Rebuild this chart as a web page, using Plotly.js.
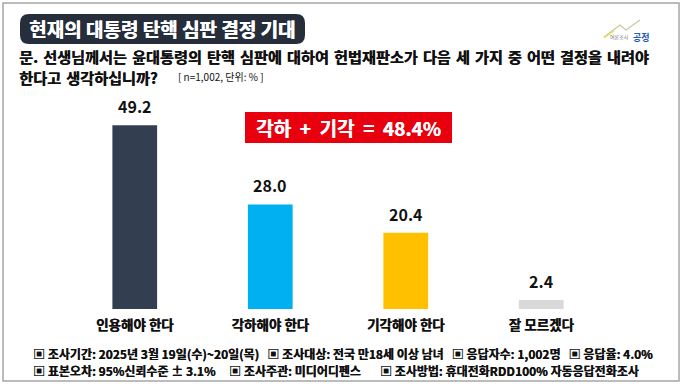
<!DOCTYPE html>
<html><head><meta charset="utf-8">
<script src="https://cdn.plot.ly/plotly-3.0.1.min.js"></script>
<style>html,body{margin:0;padding:0;background:#fff}#c{width:683px;height:390px}</style>
</head><body><div id="c"></div>
<script>
const categories = ["인용해야 한다", "각하해야 한다", "기각해야 한다", "잘 모르겠다"];
const values = [49.2, 28.0, 20.4, 2.4];
const barColors = ["#333f50", "#00b0f0", "#ffc000", "#d9d9d9"];
const titleText = "현재의 대통령 탄핵 심판 결정 기대";
const questionLine1 = "문. 선생님께서는 윤대통령의 탄핵 심판에 대하여 헌법재판소가 다음 세 가지 중 어떤 결정을 내려야";
const questionLine2 = "한다고 생각하십니까?";
const sampleNote = "[ n=1,002, 단위: % ]";
const highlightText = "각하  +  기각  =  48.4%";
const footer1 = "▣ 조사기간: 2025년 3월 19일(수)~20일(목)   ▣ 조사대상: 전국 만18세 이상 남녀   ▣ 응답자수: 1,002명   ▣ 응답율: 4.0%";
const footer2 = "▣ 표본오차: 95%신뢰수준 ± 3.1%     ▣ 조사주관: 미디어디펜스       ▣ 조사방법: 휴대전화RDD100% 자동응답전화조사";

const W = 683, H = 390;
const px = x => x / W, py = y => 1 - y / H;
const F = "'Noto Sans CJK KR', 'Noto Sans', sans-serif";
const SH = "0.45px 0 0 #111";
const wide = s => s.replace(/ /g, "\u2004");

const trace = {
  type: "bar", x: categories, y: values,
  marker: {color: barColors}, hoverinfo: "skip"
};

const valueLabels = categories.map((c, i) => ({
  xref: "x", yref: "y", x: c, y: values[i], text: "<b>" + values[i].toFixed(1) + "</b>",
  showarrow: false, yanchor: "bottom", yshift: 5,
  font: {family: F, size: 16, color: "#111"}
}));

const r = 9, tx0 = 20, tx1 = 305, ty0 = 14, ty1 = 44;
function rr(x0, y0, x1, y1, r) {
  return `M${px(x0+r)},${py(y0)} L${px(x1-r)},${py(y0)} Q${px(x1)},${py(y0)} ${px(x1)},${py(y0+r)} L${px(x1)},${py(y1-r)} Q${px(x1)},${py(y1)} ${px(x1-r)},${py(y1)} L${px(x0+r)},${py(y1)} Q${px(x0)},${py(y1)} ${px(x0)},${py(y1-r)} L${px(x0)},${py(y0+r)} Q${px(x0)},${py(y0)} ${px(x0+r)},${py(y0)} Z`;
}

const layout = {
  width: W, height: H,
  margin: {l: 0, r: 0, t: 0, b: 0},
  paper_bgcolor: "#fff", plot_bgcolor: "rgba(0,0,0,0)",
  showlegend: false, bargap: 0.67,
  font: {family: F, color: "#111"},
  xaxis: {domain: [px(67), px(609)], showgrid: false, zeroline: false, showline: false,
          ticks: "", tickvals: categories, ticktext: categories.map(c => "<b>" + c + "</b>"),
          ticklabelstandoff: 6,
          tickfont: {family: F, size: 13.5, color: "#111", shadow: SH}, fixedrange: true},
  yaxis: {domain: [py(309), py(85)], range: [0, 60], visible: false, fixedrange: true},
  shapes: [
    {type: "rect", xref: "paper", yref: "paper", x0: px(3), x1: px(679), y0: py(381), y1: py(3),
     line: {color: "#a6a6a6", width: 1.5}, fillcolor: "rgba(0,0,0,0)"},
    {type: "path", xref: "paper", yref: "paper", path: rr(tx0, ty0, tx1, ty1, r),
     fillcolor: "#262d3b", line: {width: 0}},
    {type: "rect", xref: "paper", yref: "paper", x0: px(245), x1: px(452), y0: py(143), y1: py(112),
     fillcolor: "#e8000f", line: {width: 0}},
    {type: "path", xref: "paper", yref: "paper",
     path: `M${px(604)},${py(37)} L${px(620)},${py(25)} L${px(626)},${py(30)} L${px(640)},${py(20)}`,
     line: {color: "#c8c8a0", width: 1.2}},
    {type: "path", xref: "paper", yref: "paper",
     path: `M${px(604)},${py(38)} L${px(614)},${py(31)}`,
     line: {color: "#f0e060", width: 1.5}}
  ],
  annotations: [
    {xref: "paper", yref: "paper", x: px(162), y: py(29), text: "<b>" + titleText + "</b>", showarrow: false,
     font: {family: F, size: 19, color: "#fff", shadow: "0.6px 0 0 #fff"}, xanchor: "center", yanchor: "middle"},
    {xref: "paper", yref: "paper", x: px(17), y: py(56), text: "<b>" + wide(questionLine1) + "</b>",
     showarrow: false, align: "left",
     font: {family: F, size: 15.2, color: "#111", shadow: SH}, xanchor: "left", yanchor: "middle"},
    {xref: "paper", yref: "paper", x: px(17), y: py(77.5), text: "<b>" + wide(questionLine2) + "</b>",
     showarrow: false, align: "left",
     font: {family: F, size: 15.2, color: "#111", shadow: SH}, xanchor: "left", yanchor: "middle"},
    {xref: "paper", yref: "paper", x: px(176), y: py(77), text: sampleNote, showarrow: false,
     font: {family: F, size: 10, color: "#111"}, xanchor: "left", yanchor: "middle"},
    {xref: "paper", yref: "paper", x: px(348.5), y: py(128), text: "<b>" + highlightText + "</b>", showarrow: false,
     font: {family: F, size: 19, color: "#fff", shadow: "0.4px 0 0 #fff"}, xanchor: "center", yanchor: "middle"},
    {xref: "paper", yref: "paper", x: px(31), y: py(353), text: "<b>" + footer1 + "</b>", showarrow: false,
     font: {family: F, size: 12, color: "#111", shadow: "0.3px 0 0 #111"}, xanchor: "left", yanchor: "middle"},
    {xref: "paper", yref: "paper", x: px(31), y: py(370), text: "<b>" + footer2 + "</b>", showarrow: false,
     font: {family: F, size: 12, color: "#111", shadow: "0.3px 0 0 #111"}, xanchor: "left", yanchor: "middle"},
    {xref: "paper", yref: "paper", x: px(631), y: py(37), text: "여론조사", showarrow: false,
     font: {family: F, size: 5, color: "#777"}, xanchor: "right", yanchor: "middle"},
    {xref: "paper", yref: "paper", x: px(631), y: py(37), text: "<b>공정</b>", showarrow: false,
     font: {family: F, size: 9, color: "#2a5db0"}, xanchor: "left", yanchor: "middle"}
  ].concat(valueLabels)
};

Plotly.newPlot("c", [trace], layout, {displayModeBar: false, staticPlot: true});
</script></body></html>
